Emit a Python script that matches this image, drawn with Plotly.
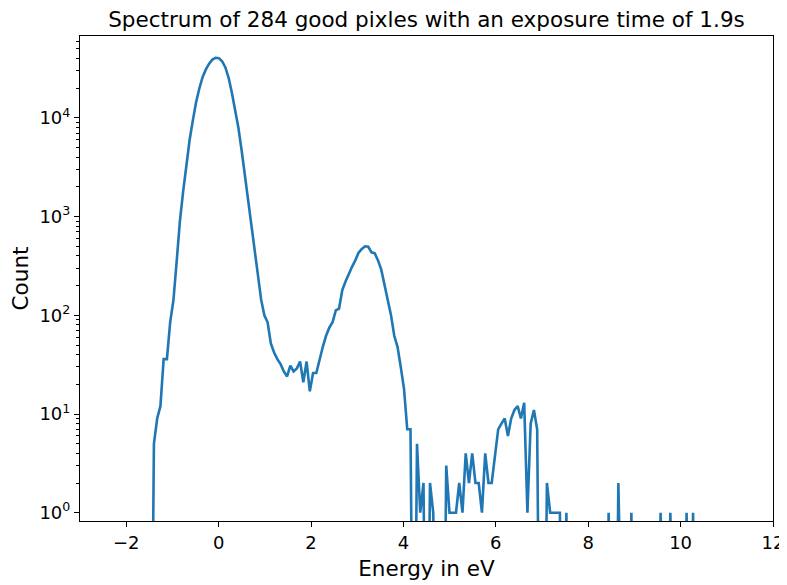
import numpy as np
import plotly.graph_objects as go

# Histogram definition (bin centres start one bin before the first filled bin)
bin_start = -1.4 - 0.0703
bin_width = 0.0703

counts = [
    0,
    5, 9, 12, 36, 36, 85, 142, 350, 900, 1800,
    3300, 6000, 9500, 14500, 20000, 26000, 31000, 35500, 39000, 40700,
    40300, 37500, 32500, 25500, 18000, 12000, 8000, 4700, 2600, 1500,
    850, 450, 250, 145, 100, 85, 52, 42, 36, 32,
    27, 24, 31, 27, 29, 34, 21, 34, 17, 26,
    26, 36, 48, 62, 75, 85, 112, 117, 180, 220,
    265, 310, 360, 430, 470, 500, 495, 435, 424, 360,
    290, 200, 140, 100, 62, 48, 30, 18, 7, 7,
    0, 5, 1, 2, 0, 2, 1, 0, 0, 0,
    3, 1, 1, 1, 2, 1, 4, 2, 4, 2,
    2, 1, 4, 2, 2, 4, 7, 8, 9, 6,
    9, 11, 12, 9, 13, 1, 8, 11, 7, 0,
    0, 2, 1, 1, 1, 1, 0, 1, 0, 0,
    0, 0, 0, 0, 0, 0, 0, 0, 0, 0,
    1, 0, 0, 2, 0, 0, 0, 1, 0, 0,
    0, 0, 0, 0, 0, 0, 1, 0, 0, 1,
    0, 0, 0, 0, 1, 0, 1, 0,
]

energies = bin_start + bin_width * np.arange(len(counts))

x_ticks = [-2, 0, 2, 4, 6, 8, 10, 12]
y_major = [1, 10, 100, 1000, 10000]
y_major_text = ["10<sup>0</sup>", "10<sup>1</sup>", "10<sup>2</sup>",
                "10<sup>3</sup>", "10<sup>4</sup>"]
y_minor = [m * 10 ** d for d in range(0, 5) for m in range(2, 10)]

# emulate log-scale clipping of non-positive values (drawn off the bottom)
plot_counts = [c if c > 0 else 1e-3 for c in counts]

fig = go.Figure()
fig.add_trace(go.Scatter(
    x=energies, y=plot_counts, mode="lines",
    line=dict(color="#1f77b4", width=2.6),
    showlegend=False, hoverinfo="skip",
))

# the page body has an 8px margin, so the figure is sized/positioned to fit
W, H = 779, 577
font_family = "DejaVu Sans"
fig.update_layout(
    width=W, height=H,
    margin=dict(l=72, r=14, t=28, b=64),
    paper_bgcolor="white", plot_bgcolor="white",
    font=dict(family=font_family, color="black", size=18),
    title=dict(
        text="Spectrum of 284 good pixles with an exposure time of 1.9s",
        x=0.5, xref="paper", xanchor="center",
        y=1 - 11 / H, yref="container", yanchor="middle",
        font=dict(size=21.5, family=font_family, color="black"),
    ),
)
fig.update_xaxes(
    range=[-3, 12],
    tickvals=x_ticks,
    ticktext=[("\u2212" + str(-v)) if v < 0 else str(v) for v in x_ticks],
    ticks="outside", ticklen=5, tickwidth=1.2, tickcolor="black",
    showline=True, linecolor="black", linewidth=1.2, mirror=True,
    showgrid=False, zeroline=False, automargin=False,
    tickfont=dict(size=18),
    title=dict(text="Energy in eV", font=dict(size=21.5), standoff=9),
)
fig.update_yaxes(
    type="log",
    range=[-0.084, 4.83],
    tickvals=y_major, ticktext=y_major_text,
    ticks="outside", ticklen=5, tickwidth=1.2, tickcolor="black",
    minor=dict(tickvals=y_minor, ticks="outside", ticklen=3,
               tickwidth=0.9, tickcolor="black", showgrid=False),
    showline=True, linecolor="black", linewidth=1.2, mirror=True,
    showgrid=False, zeroline=False, automargin=False,
    tickfont=dict(size=18),
    title=dict(text="Count", font=dict(size=21.5), standoff=5),
)

fig.write_html("out.html")
